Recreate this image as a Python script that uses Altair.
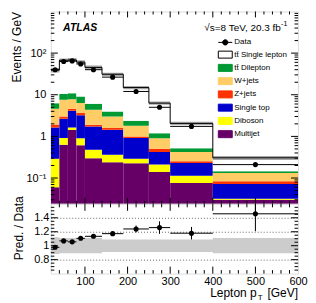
import altair as alt
import pandas as pd

FONT = "Liberation Sans"

# ---------------- data ----------------
edges = [20, 40, 60, 80, 100, 140, 190, 250, 300, 400, 600]
data_vals = [40.0, 63.0, 65.0, 55.0, 40.0, 26.5, 12.0, 5.0, 1.74, 0.21]
ratio_err = [0.02, 0.02, 0.02, 0.02, 0.02, 0.025, 0.05, 0.09, 0.09, 0.25]
syst = [0.12, 0.11, 0.11, 0.11, 0.11, 0.09, 0.09, 0.09, 0.09, 0.11]

multijet = [0.060, 0.63, 1.43, 0.61, 0.30, 0.24, 0.225, 0.139, 0.076, 0.030]
diboson = [0.229, 0.28, 0.21, 0.29, 0.18, 0.12, 0.064, 0.071, 0.038, 0.002]
single_top = [1.35, 1.75, 2.49, 2.30, 1.26, 1.09, 0.62, 0.21, 0.115, 0.040]
zjets = [0.30, 0.36, 0.49, 0.43, 0.17, 0.13, 0.09, 0.087, 0.023, 0.012]
wjets = [2.68, 4.57, 3.22, 2.67, 2.46, 1.44, 0.81, 0.40, 0.17, 0.049]
tt_dilep = [1.67, 2.86, 3.06, 2.81, 1.71, 0.96, 0.57, 0.29, 0.10, 0.013]
tt_single = [32.8, 56.9, 57.7, 51.7, 39.3, 27.1, 12.5, 5.1, 1.53, 0.16]

TT = "tt\u0304"
components = [
    ("Multijet", multijet),
    ("Diboson", diboson),
    ("Single top", single_top),
    ("Z+jets", zjets),
    ("W+jets", wjets),
    (TT + " Dilepton", tt_dilep),
    (TT + " Single lepton", tt_single),
]
legend_order = ["Data", TT + " Single lepton", TT + " Dilepton", "W+jets", "Z+jets",
                "Single top", "Diboson", "Multijet"]
fill_colors = ["#000000", "#ffffff", "#009933", "#ffcc66", "#ff3300", "#0000cc", "#ffff00", "#660066"]
stroke_colors = ["#000000", "#000000", "#009933", "#ffcc66", "#ff3300", "#0000cc", "#ffff00", "#660066"]
RECT = "M-2,-1H2V1H-2Z"
DOT = "M-2,0H2M0.75,0A0.75,0.75,0,1,1,-0.75,0A0.75,0.75,0,1,1,0.75,0Z"
shapes = [DOT] + [RECT] * 7

y_major = [0.1, 1, 10, 100]
y_minor = [m * d for d in [0.01, 0.1, 1, 10, 100] for m in range(2, 10) if 0.024 < m * d < 1000]
x_ticks_major = [100, 200, 300, 400, 500]
x_ticks_minor = [v for v in range(40, 600, 20) if v % 100 != 0]
r_major = [0.8, 1.0, 1.2, 1.4]
r_minor = [round(0.6 + 0.05 * k, 2) for k in range(1, 20) if round(0.6 + 0.05 * k, 2) not in (0.8, 1.0, 1.2, 1.4)]
x_labels = [100, 200, 300, 400, 500, 600]

# ---------------- tables ----------------
nb = len(data_vals)
rows = []
totals = []
for i in range(nb):
    cum = 0.0
    for name, vals in components:
        lo = cum if cum > 0 else 1e-4
        hi = cum + vals[i]
        rows.append({"comp": name, "x": edges[i], "x2": edges[i + 1], "lo": lo, "hi": hi})
        cum = hi
    totals.append(cum)
stack_df = pd.DataFrame(rows)

centers = [(edges[i] + edges[i + 1]) / 2 for i in range(nb)]
ratio = [totals[i] / data_vals[i] for i in range(nb)]
pts = pd.DataFrame({
    "c": centers, "x": edges[:-1], "x2": edges[1:], "d": data_vals,
    "r": ratio, "rlo": [ratio[i] - ratio_err[i] for i in range(nb)],
    "rhi": [ratio[i] + ratio_err[i] for i in range(nb)],
})
step = pd.DataFrame({
    "x": edges,
    "t": totals + [totals[-1]],
    "blo": [totals[i] * (1 - syst[i]) for i in range(nb)] + [totals[-1] * (1 - syst[-1])],
    "bhi": [totals[i] * (1 + syst[i]) for i in range(nb)] + [totals[-1] * (1 + syst[-1])],
    "rblo": [1 - s for s in syst] + [1 - syst[-1]],
    "rbhi": [1 + s for s in syst] + [1 + syst[-1]],
})
leg_df = pd.DataFrame({"comp": legend_order, "x": [300] * 8, "y": [1e-7] * 8})
one = pd.DataFrame({"a": [0]})

W, H1, H2 = 248, 193, 70
xs = alt.Scale(domain=[20, 600], nice=False, zero=False)
ys = alt.Scale(type="log", domain=[0.024, 1000], nice=False)
rs = alt.Scale(domain=[0.6, 1.6], nice=False, zero=False)

fill_scale = alt.Scale(domain=legend_order, range=fill_colors)
stroke_scale = alt.Scale(domain=legend_order, range=stroke_colors)
shape_scale = alt.Scale(domain=legend_order, range=shapes)

y_axis_top = alt.Axis(values=y_major, ticks=False, domain=False, grid=False,
                      labelFontSize=11, labelPadding=5, labelFont=FONT,
                      labelExpr="datum.value < 0.5 ? '10\u207b\u00b9' : datum.value < 5 ? '1' : datum.value < 50 ? '10' : '10\u00b2'",
                      title="Events / GeV", titleFontSize=12, titleFont=FONT,
                      titleFontWeight="normal", titleAngle=270, titleAlign="right",
                      titleBaseline="alphabetic", titleX=-30, titleY=0)
x_axis_low = alt.Axis(values=x_labels, ticks=False, domain=False, grid=False, labelFontSize=11,
                      labelFont=FONT, labelPadding=2, labelFlush=False, title=None)
y_axis_low = alt.Axis(values=r_major, ticks=False, domain=False, grid=True, gridDash=[1, 2],
                      gridColor="#000000", gridWidth=0.6, labelFontSize=11, labelPadding=2,
                      labelFont=FONT,
                      labelExpr="datum.value == 1 ? '1' : format(datum.value, '.1f')",
                      title="Pred. / Data", titleFontSize=12, titleFont=FONT,
                      titleFontWeight="normal", titleAngle=270, titleAlign="right",
                      titleBaseline="alphabetic", titleX=-28, titleY=-8)


def ticks_y(vals, scale, yaxis, length, width):
    df = pd.DataFrame({"v": vals})
    base = alt.Chart(df)
    left = base.mark_rule(color="black", strokeWidth=1).encode(
        y=alt.Y("v:Q", scale=scale, axis=yaxis), x=alt.value(0), x2=alt.value(length))
    right = base.mark_rule(color="black", strokeWidth=1).encode(
        y=alt.Y("v:Q", scale=scale, axis=yaxis), x=alt.value(width - length), x2=alt.value(width))
    return [left, right]


def ticks_x(vals, xaxis, length, height):
    df = pd.DataFrame({"v": vals})
    base = alt.Chart(df)
    bot = base.mark_rule(color="black", strokeWidth=1).encode(
        x=alt.X("v:Q", scale=xs, axis=xaxis), y=alt.value(height - length), y2=alt.value(height))
    top = base.mark_rule(color="black", strokeWidth=1).encode(
        x=alt.X("v:Q", scale=xs, axis=xaxis), y=alt.value(0), y2=alt.value(length))
    return [bot, top]


def txt(s, x, y, size, align="left", weight="normal", style="normal"):
    return alt.Chart(one).mark_text(
        text=s, font=FONT, fontSize=size, align=align, baseline="alphabetic",
        fontWeight=weight, fontStyle=style, color="black").encode(
        x=alt.value(x), y=alt.value(y))


leg = alt.Legend(title=None, orient="none", legendX=171, legendY=27, symbolSize=49,
                 labelFontSize=8, labelFont=FONT, labelOffset=5, rowPadding=1.3,
                 symbolStrokeWidth=1, padding=0, labelLimit=300, symbolOffset=0,
                 labelColor="black")

# ---------------- top panel ----------------
stack = alt.Chart(stack_df).mark_rect(clip=True).encode(
    x=alt.X("x:Q", scale=xs, axis=None), x2="x2:Q",
    y=alt.Y("lo:Q", scale=ys, axis=y_axis_top), y2="hi:Q",
    fill=alt.Fill("comp:N", scale=fill_scale, legend=leg),
)
band = alt.Chart(step).mark_area(interpolate="step-after", color="#a8a8a8", clip=True).encode(
    x=alt.X("x:Q", scale=xs, axis=None), y=alt.Y("blo:Q", scale=ys, axis=y_axis_top), y2="bhi:Q")
line = alt.Chart(step).mark_line(interpolate="step-after", color="black", strokeWidth=1, clip=True).encode(
    x=alt.X("x:Q", scale=xs, axis=None), y=alt.Y("t:Q", scale=ys, axis=y_axis_top))
dbar = alt.Chart(pts).mark_rule(color="black", strokeWidth=1).encode(
    x=alt.X("x:Q", scale=xs, axis=None), x2="x2:Q", y=alt.Y("d:Q", scale=ys, axis=y_axis_top))
dpt = alt.Chart(pts).mark_point(filled=True, color="black", size=26, opacity=1).encode(
    x=alt.X("c:Q", scale=xs, axis=None), y=alt.Y("d:Q", scale=ys, axis=y_axis_top))
carrier = alt.Chart(leg_df).mark_point(filled=True, size=49, opacity=1, clip=True, strokeWidth=1).encode(
    x=alt.X("x:Q", scale=xs, axis=None), y=alt.Y("y:Q", scale=ys, axis=y_axis_top),
    fill=alt.Fill("comp:N", scale=fill_scale, legend=leg),
    stroke=alt.Stroke("comp:N", scale=stroke_scale, legend=leg),
    shape=alt.Shape("comp:N", scale=shape_scale, legend=leg),
)

top_layers = [stack, band, line, dbar, dpt, carrier]
top_layers += ticks_y(y_major, ys, y_axis_top, 7, W) + ticks_y(y_minor, ys, y_axis_top, 3.5, W)
top_layers += ticks_x(x_ticks_major, None, 6, H1) + ticks_x(x_ticks_minor, None, 3, H1)
top_layers += [
    txt("ATLAS", 12.3, 19.3, 10.5, weight="bold", style="italic"),
    txt("\u221as=8 TeV, 20.3 fb", 230.8, 19.5, 10, align="right"),
    txt("-1", 231.0, 15.0, 7),
]
top = alt.layer(*top_layers).properties(width=W, height=H1)

# ---------------- ratio panel ----------------
rband = alt.Chart(step).mark_area(interpolate="step-after", color="#cccccc").encode(
    x=alt.X("x:Q", scale=xs, axis=x_axis_low), y=alt.Y("rblo:Q", scale=rs, axis=y_axis_low), y2="rbhi:Q")
rbar = alt.Chart(pts).mark_rule(color="black", strokeWidth=1, clip=True).encode(
    x=alt.X("x:Q", scale=xs, axis=x_axis_low), x2="x2:Q", y=alt.Y("r:Q", scale=rs, axis=y_axis_low))
rerr = alt.Chart(pts).mark_rule(color="black", strokeWidth=1, clip=True).encode(
    x=alt.X("c:Q", scale=xs, axis=x_axis_low), y=alt.Y("rlo:Q", scale=rs, axis=y_axis_low), y2="rhi:Q")
rpt = alt.Chart(pts).mark_point(filled=True, color="black", size=26, opacity=1).encode(
    x=alt.X("c:Q", scale=xs, axis=x_axis_low), y=alt.Y("r:Q", scale=rs, axis=y_axis_low))

low_layers = [rband, rbar, rerr, rpt]
low_layers += ticks_y(r_major, rs, y_axis_low, 7, W) + ticks_y(r_minor, rs, y_axis_low, 3.5, W)
low_layers += ticks_x(x_ticks_major, x_axis_low, 7, H2) + ticks_x(x_ticks_minor, x_axis_low, 3.5, H2)
low_layers += [
    txt("[GeV]", 248, 93.0, 12, align="right"),
    txt("Lepton p", 206.5, 93.0, 12, align="right"),
    txt("T", 207.5, 96.5, 8),
]
low = alt.layer(*low_layers).properties(width=W, height=H2)

chart = alt.vconcat(top, low, spacing=0, bounds="flush").resolve_scale(
    fill="independent", stroke="independent", shape="independent"
).configure_view(stroke="black", strokeWidth=1).configure(
    padding={"left": 2, "top": 2, "right": 0, "bottom": 0}, background="white"
)

chart.save("out.html", embed_options={"renderer": "svg", "actions": False})
